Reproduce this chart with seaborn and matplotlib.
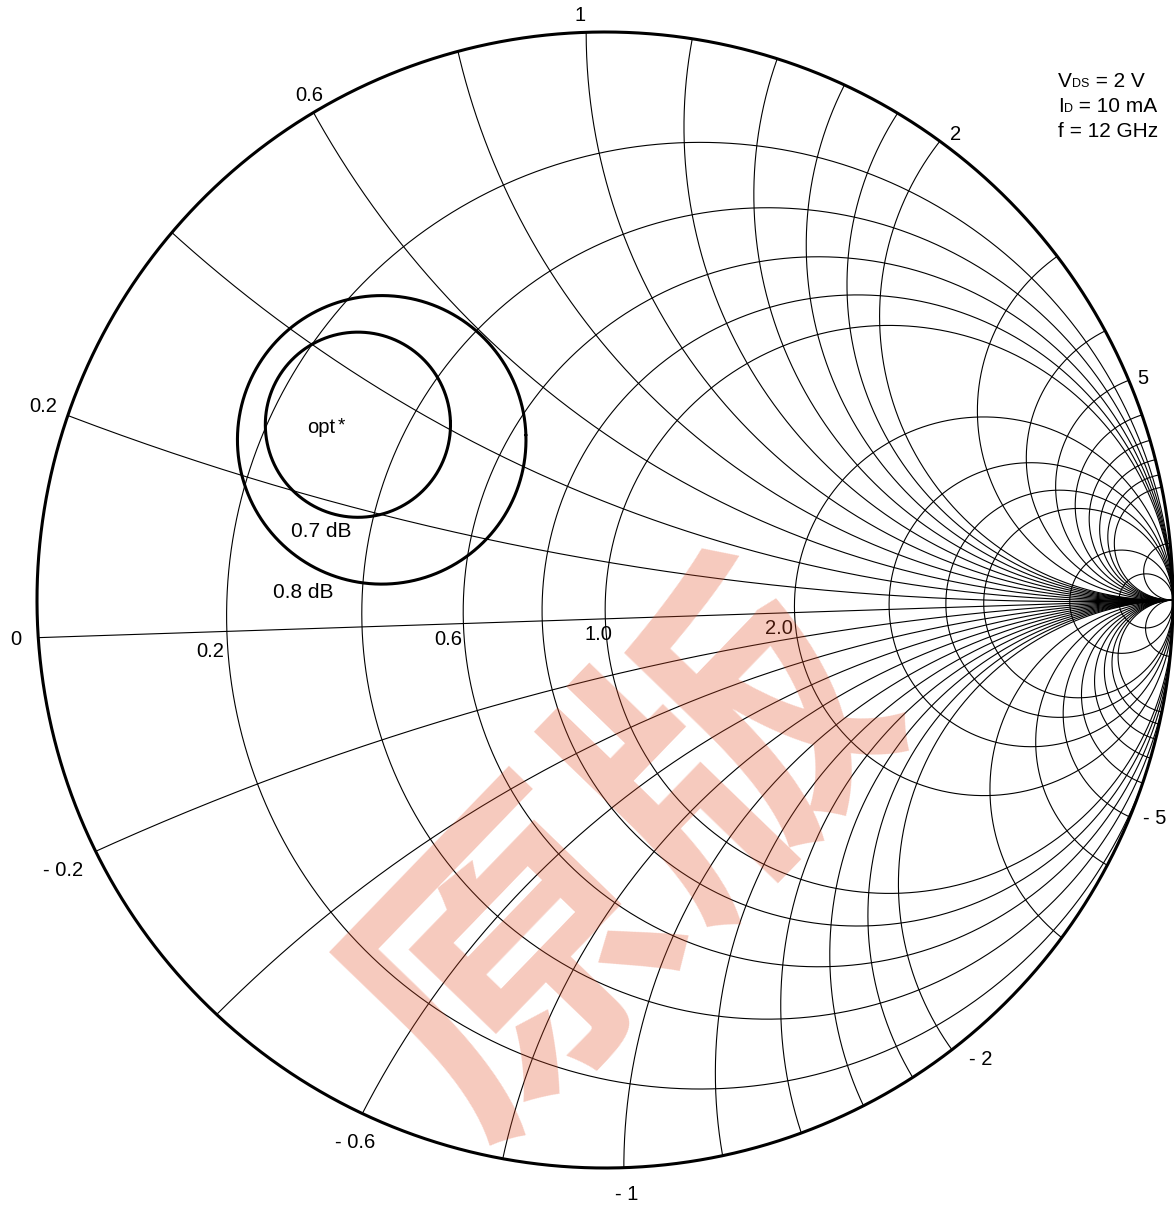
import numpy as np
import pandas as pd
import matplotlib
matplotlib.use("Agg")
import matplotlib.pyplot as plt
import seaborn as sns
from matplotlib.patches import Circle

# ---- chart data -------------------------------------------------------------
resistance_values = [0.2, 0.4, 0.6, 0.8, 1.0, 2.0, 3.0, 4.0, 5.0, 10.0, 20.0]
reactance_values = [0.2, 0.4, 0.6, 0.8, 1.0, 1.2, 1.4, 1.6, 1.8, 2.0,
                    3.0, 4.0, 5.0, 6.0, 7.0, 8.0, 9.0, 10.0, 20.0]
resistance_labels = {0.2: "0.2", 0.6: "0.6", 1.0: "1.0", 2.0: "2.0"}
reactance_labels = {0.2: "0.2", 0.6: "0.6", 1.0: "1", 2.0: "2", 5.0: "5",
                    -0.2: "- 0.2", -0.6: "- 0.6", -1.0: "- 1", -2.0: "- 2", -5.0: "- 5"}

# constant-noise-figure circles (reflection-coefficient plane)
noise_levels = ["0.7 dB", "0.8 dB"]
noise_centers = [complex(-0.424, 0.356), complex(-0.383, 0.328)]
noise_radii = [0.163, 0.254]

bias_lines = [("V", "DS", " = 2 V"), ("I", "D", " = 10 mA"), ("f", "", " = 12 GHz")]
watermark = "原版"

# ---- geometry -----------------------------------------------------------------
TILT = np.deg2rad(1.9)          # grid is turned slightly about the open-circuit point
ROT = np.exp(1j * TILT)


def chart(g):
    """Place reflection coefficients of the grid frame on the drawing."""
    return 1 + (np.asarray(g) - 1) * ROT


def rim_point(x):
    """Point where the reactance arc x meets the outer circle."""
    th = 2 * np.arctan2(np.cos(TILT) / x, 1 - np.sin(TILT) / x)
    return np.exp(1j * th)


t = np.linspace(0, 2 * np.pi, 4001)
frames = []
for r in resistance_values:
    w = chart(r / (r + 1) + np.exp(1j * t) / (r + 1))
    frames.append(pd.DataFrame({"re": w.real, "im": w.imag, "curve": f"r{r}"}))
for x in reactance_values + [-v for v in reactance_values]:
    w = chart(1 + 1j / x + np.exp(1j * t) / abs(x))
    frames.append(pd.DataFrame({"re": w.real, "im": w.imag, "curve": f"x{x}"}))
w = chart(np.linspace(-1.3, 1.0, 400))
frames.append(pd.DataFrame({"re": w.real, "im": w.imag, "curve": "axis"}))
grid_df = pd.concat(frames, ignore_index=True)

rim = np.exp(1j * t)
rim_df = pd.DataFrame({"re": rim.real, "im": rim.imag})

nf = []
for lvl, c, rad in zip(noise_levels, noise_centers, noise_radii):
    w = chart(c + rad * np.exp(1j * t))
    nf.append(pd.DataFrame({"re": w.real, "im": w.imag, "level": lvl}))
noise_df = pd.concat(nf, ignore_index=True)

# ---- figure -------------------------------------------------------------------
sns.set_theme(style="white")
plt.rcParams["font.family"] = ["Liberation Sans", "DejaVu Sans"]
plt.rcParams["text.color"] = "black"

W, H = 1174, 1207
CX, CY, RAD = 605.0, 600.0, 568.0
fig = plt.figure(figsize=(W / 100, H / 100), dpi=100)
ax = fig.add_axes([0, 0, 1, 1])
ax.set_xlim(-CX / RAD, (W - CX) / RAD)
ax.set_ylim((CY - H) / RAD, CY / RAD)
ax.set_axis_off()


def px(xp, yp):
    return (xp - CX) / RAD, (CY - yp) / RAD


sns.lineplot(data=grid_df, x="re", y="im", units="curve", estimator=None,
             sort=False, color="black", linewidth=0.8, ax=ax, legend=False)
clip = Circle((0, 0), 1.0, transform=ax.transData)
for ln in ax.lines:
    ln.set_clip_path(clip)

sns.lineplot(data=rim_df, x="re", y="im", estimator=None, sort=False,
             color="black", linewidth=2.2, ax=ax, legend=False)
sns.lineplot(data=noise_df, x="re", y="im", units="level", estimator=None,
             sort=False, color="black", linewidth=2.2, ax=ax, legend=False)

FS = 14.5
# reactance labels round the rim
react_offsets = {0.2: (-25, -9), 0.6: (-4, -17), 1.0: (-6, -17), 2.0: (16, -7),
                 5.0: (14, -2), -0.2: (-33, 19), -0.6: (-7, 29), -1.0: (3, 27),
                 -2.0: (29, 10), -5.0: (25, 1)}
for x, txt in reactance_labels.items():
    p = rim_point(x)
    dx, dy = react_offsets[x]
    ax.annotate(txt, (p.real, p.imag), xytext=(dx, -dy), textcoords="offset pixels",
                ha="center", va="center", fontsize=FS)
left_end = np.exp(1j * (np.pi + 2 * TILT))
ax.annotate("0", (left_end.real, left_end.imag), xytext=(-22, -2),
            textcoords="offset pixels", ha="center", va="center", fontsize=FS)

# resistance labels along the real axis
res_offsets = {0.2: (-17, 20), 0.6: (-15, 16), 1.0: (-7, 16), 2.0: (-16, 16)}
for r, txt in resistance_labels.items():
    p = chart((r - 1) / (r + 1))
    dx, dy = res_offsets[r]
    ax.annotate(txt, (p.real, p.imag), xytext=(dx, -dy), textcoords="offset pixels",
                ha="center", va="center", fontsize=FS)

# noise circle annotations
ax.text(*px(307, 433), "opt", fontsize=FS, ha="left", va="baseline")
ax.text(*px(338, 430), "*", fontsize=FS - 1, ha="left", va="baseline")
for lvl, pos in zip(noise_levels, [(291, 537), (273, 598)]):
    ax.text(*px(*pos), lvl, fontsize=FS + 0.5, ha="left", va="baseline")

# bias conditions, top right
fig.canvas.draw()
renderer = fig.canvas.get_renderer()
for i, (main, sub, rest) in enumerate(bias_lines):
    x0, y0 = px(1058, 87 + 25 * i)
    cur = ax.text(x0, y0, main, fontsize=15, ha="left", va="baseline")
    xpix = cur.get_window_extent(renderer).x1
    if sub:
        sx, _ = ax.transData.inverted().transform((xpix + 0.5, 0))
        s = ax.text(sx, y0, sub, fontsize=9, ha="left", va="baseline")
        xpix = s.get_window_extent(renderer).x1
    rx, _ = ax.transData.inverted().transform((xpix, 0))
    ax.text(rx, y0, rest, fontsize=15, ha="left", va="baseline")

# watermark across the lower middle
wx, wy = px(632, 860)
ax.text(wx, wy, watermark, fontsize=222, rotation=46, rotation_mode="anchor",
        ha="center", va="center", color="#E45028", alpha=0.3,
        fontweight="black", family=["Noto Sans CJK SC", "DejaVu Sans"], zorder=10)

fig.savefig("out.png", dpi=100)
